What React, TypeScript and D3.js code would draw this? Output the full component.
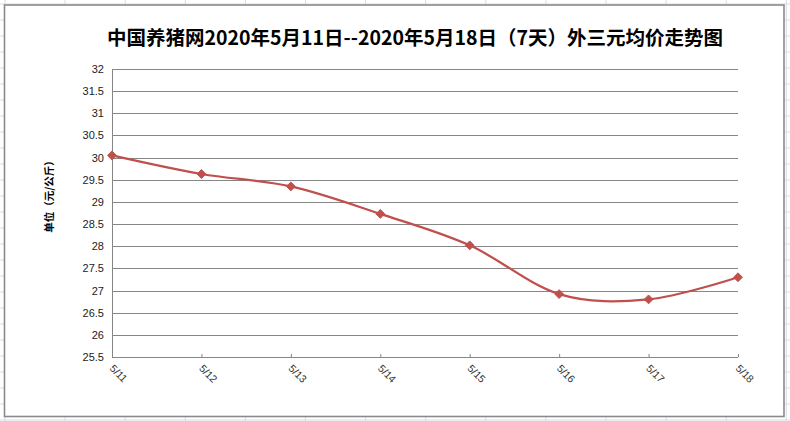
import React from "react";
import * as d3 from "d3";

const categories = ["5/11", "5/12", "5/13", "5/14", "5/15", "5/16", "5/17", "5/18"];
const prices = [30.05, 29.63, 29.35, 28.73, 28.02, 26.92, 26.80, 27.30];
const yTicks = [25.5, 26, 26.5, 27, 27.5, 28, 28.5, 29, 29.5, 30, 30.5, 31, 31.5, 32];
const title = "中国养猪网2020年5月11日--2020年5月18日（7天）外三元均价走势图";
const yLabel = "单位（元/公斤）";

const W = 790;
const H = 421;
const plot = { left: 112, right: 738, top: 69, bottom: 357 };

export default function App() {
  const x = d3.scalePoint<string>().domain(categories).range([plot.left, plot.right]);
  const y = d3.scaleLinear().domain([25.5, 32]).range([plot.bottom, plot.top]);
  const line = d3
    .line<number>()
    .x((_, i) => x(categories[i]) as number)
    .y((d) => y(d))
    .curve(d3.curveCardinal.tension(0));

  const bgV = d3.range(5, 790, 60.1);
  const bgH = d3.range(4, 421, 16);

  const diamond = d3.symbol().type(d3.symbolDiamond2).size(50)();

  return (
    <svg
      width={W}
      height={H}
      style={{ position: "fixed", left: 0, top: 0, background: "#fff" }}
    >
      {bgV.map((v, i) => (
        <line key={"bv" + i} x1={v} x2={v} y1={0} y2={H} stroke="#d5dbe8" strokeWidth={1} />
      ))}
      {bgH.map((v, i) => (
        <line key={"bh" + i} x1={0} x2={W} y1={v} y2={v} stroke="#d5dbe8" strokeWidth={1} />
      ))}
      <rect x={4.5} y={5} width={779.5} height={411.5} fill="#fff" stroke="#8a8a8a" strokeWidth={1.6} />

      <text
        x={415}
        y={45}
        textAnchor="middle"
        fontFamily="'Noto Sans CJK SC', sans-serif"
        fontWeight="bold"
        fontSize={19.5}
        fill="#000"
      >
        {title}
      </text>

      {yTicks.map((t) => (
        <g key={"yt" + t}>
          <line
            x1={plot.left}
            x2={plot.right}
            y1={Math.round(y(t)) + 0.5}
            y2={Math.round(y(t)) + 0.5}
            stroke="#868686"
            strokeWidth={1}
          />
          <text
            x={104}
            y={y(t) + 4}
            textAnchor="end"
            fontFamily="'Liberation Sans', Arial, sans-serif"
            fontSize={11}
            fill="#222"
          >
            {String(t)}
          </text>
        </g>
      ))}

      <line x1={plot.left + 0.5} x2={plot.left + 0.5} y1={plot.top} y2={plot.bottom} stroke="#868686" strokeWidth={1} />
      <line x1={plot.left} x2={plot.right} y1={plot.bottom + 0.5} y2={plot.bottom + 0.5} stroke="#868686" strokeWidth={1} />

      {categories.map((c) => {
        const cx = x(c) as number;
        return (
          <g key={"xt" + c}>
            <line x1={cx + 0.5} x2={cx + 0.5} y1={plot.bottom} y2={plot.bottom - 3} stroke="#868686" strokeWidth={1} />
            <text
              transform={`translate(${cx - 3},${plot.bottom + 12}) rotate(45)`}
              fontFamily="'Liberation Sans', Arial, sans-serif"
              fontSize={10.5}
              fill="#333"
            >
              {c}
            </text>
          </g>
        );
      })}

      <text
        transform={`translate(53,194) rotate(-90)`}
        textAnchor="middle"
        fontFamily="'Noto Sans CJK SC', sans-serif"
        fontWeight="bold"
        fontSize={10.5}
        fill="#000"
      >
        {yLabel}
      </text>

      <path d={line(prices) || ""} fill="none" stroke="#c0504d" strokeWidth={2.25} />
      {prices.map((p, i) => (
        <path
          key={"m" + i}
          d={diamond || ""}
          transform={`translate(${x(categories[i])},${y(p)})`}
          fill="#c0504d"
          stroke="#c0504d"
          strokeWidth={1}
        />
      ))}
    </svg>
  );
}
